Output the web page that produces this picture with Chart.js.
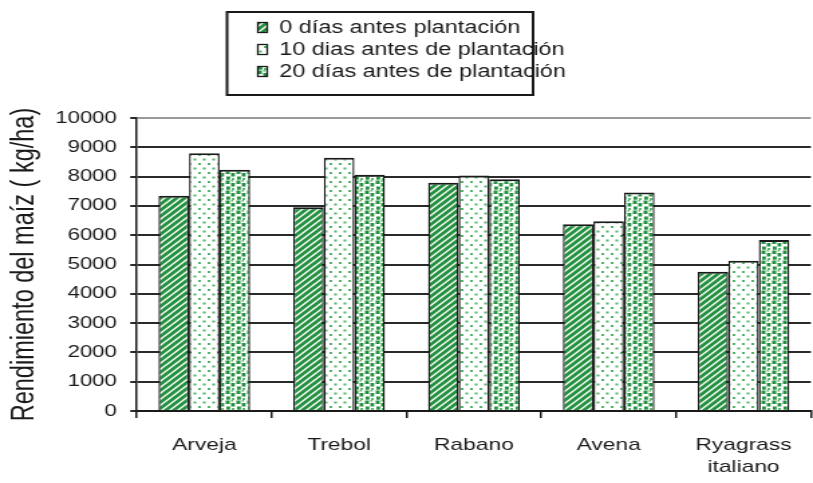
<!DOCTYPE html>
<html>
<head>
<meta charset="utf-8">
<script src="https://cdn.jsdelivr.net/npm/chart.js@4"></script>
<style>
  body { margin: 0; background: #fff; }
</style>
</head>
<body>
<!-- the reference text is drawn wide, so the canvas is stretched sideways -->
<canvas id="myChart" width="607" height="483" style="width:813px;height:483px;display:block"></canvas>
<script>
const categories = ['Arveja', 'Trebol', 'Rabano', 'Avena', ['Ryagrass', 'italiano']];
const seriesNames = [
  '0 días antes plantación',
  '10 dias antes de plantación',
  '20 días antes de plantación'
];
const dias0 = [7350, 6950, 7790, 6370, 4750];
const dias10 = [8800, 8640, 8040, 6480, 5130];
const dias20 = [8230, 8060, 7910, 7460, 5840];
const yTicks = [0, 1000, 2000, 3000, 4000, 5000, 6000, 7000, 8000, 9000, 10000];

const FONT = '"Liberation Sans", Arial, sans-serif';
const GREEN = '#23913f';
const INK = '#1a1a1a';

function makeTile(w, h, draw) {
  const c = document.createElement('canvas');
  c.width = w; c.height = h;
  const g = c.getContext('2d');
  g.fillStyle = '#fff';
  g.fillRect(0, 0, w, h);
  draw(g);
  return document.getElementById('myChart').getContext('2d').createPattern(c, 'repeat');
}

// diagonal stripes
const stripes = makeTile(6, 6, g => {
  g.strokeStyle = GREEN;
  g.lineWidth = 2.9;
  g.beginPath();
  g.moveTo(-3, 3); g.lineTo(3, -3);
  g.moveTo(0, 6); g.lineTo(6, 0);
  g.moveTo(3, 9); g.lineTo(9, 3);
  g.stroke();
});
// small sparse dots
const dots = makeTile(7, 9, g => {
  g.fillStyle = '#4fb465';
  g.fillRect(1, 1, 2, 2);
  g.fillRect(4.5, 5.5, 2, 2);
});
// scattered squares
const squares = makeTile(8, 10, g => {
  g.fillStyle = GREEN;
  g.fillRect(0.5, 0.5, 3, 3.5);
  g.fillRect(4.5, 3, 2.8, 3.5);
  g.fillRect(1, 6.5, 2.8, 3.2);
  g.fillStyle = '#5cb870';
  g.fillRect(5, 8, 2, 2);
  g.fillRect(4.5, 0, 1.6, 1.6);
});

const legendBox = {
  id: 'legendBox',
  afterDraw(chart) {
    const ctx = chart.ctx;
    ctx.save();
    ctx.strokeStyle = INK;
    ctx.lineWidth = 2;
    ctx.strokeRect(169.5, 12, 228.5, 83);
    ctx.font = '17.5px ' + FONT;
    ctx.textBaseline = 'middle';
    chart.data.datasets.forEach((ds, i) => {
      const y = 27.5 + i * 22;
      ctx.fillStyle = ds.backgroundColor;
      ctx.fillRect(192.5, y - 5, 7, 10);
      ctx.lineWidth = 1.3;
      ctx.strokeRect(192.5, y - 5, 7, 10);
      ctx.fillStyle = INK;
      ctx.fillText(ds.label, 208.5, y + 1);
    });
    ctx.restore();
  }
};

const ctx = document.getElementById('myChart').getContext('2d');
const myChart = new Chart(ctx, {
  type: 'bar',
  data: {
    labels: categories,
    datasets: [
      { label: seriesNames[0], data: dias0, backgroundColor: stripes },
      { label: seriesNames[1], data: dias10, backgroundColor: dots },
      { label: seriesNames[2], data: dias20, backgroundColor: squares }
    ]
  },
  options: {
    responsive: false,
    devicePixelRatio: 1,
    animation: false,
    layout: { padding: { top: 118, left: 2, right: 0, bottom: 0 } },
    datasets: {
      bar: {
        categoryPercentage: 0.68,
        barPercentage: 1.0,
        borderColor: INK,
        borderWidth: { top: 2, left: 1.4, right: 1.4, bottom: 0 },
        borderSkipped: false
      }
    },
    plugins: {
      legend: { display: false },
      tooltip: { enabled: false }
    },
    scales: {
      x: {
        grid: { display: true, drawOnChartArea: false, tickLength: 7, color: INK, lineWidth: 1.5, offset: true },
        border: { color: INK, width: 2 },
        ticks: { color: INK, font: { family: FONT, size: 17, lineHeight: 1.3 }, padding: 16, maxRotation: 0, autoSkip: false },
        afterFit(scale) { scale.height = 72; }
      },
      y: {
        min: 0,
        max: 10000,
        afterBuildTicks(scale) { scale.ticks = yTicks.map(v => ({ value: v })); },
        grid: {
          color: c => (c.tick && c.tick.value === 10000 ? '#9a9a9a' : '#2a2a2a'),
          tickColor: '#2a2a2a',
          lineWidth: 2,
          tickLength: 5
        },
        border: { color: INK, width: 1.5 },
        ticks: { color: INK, font: { family: FONT, size: 16.5 }, padding: 10, callback: v => String(v) },
        title: {
          display: true,
          text: 'Rendimiento del maíz ( kg/ha)',
          color: INK,
          font: { family: FONT, size: 23.5 },
          padding: { top: 2, bottom: 0 }
        },
        afterFit(scale) { scale.width = 100.2; }
      }
    }
  },
  plugins: [legendBox]
});
</script>
</body>
</html>
